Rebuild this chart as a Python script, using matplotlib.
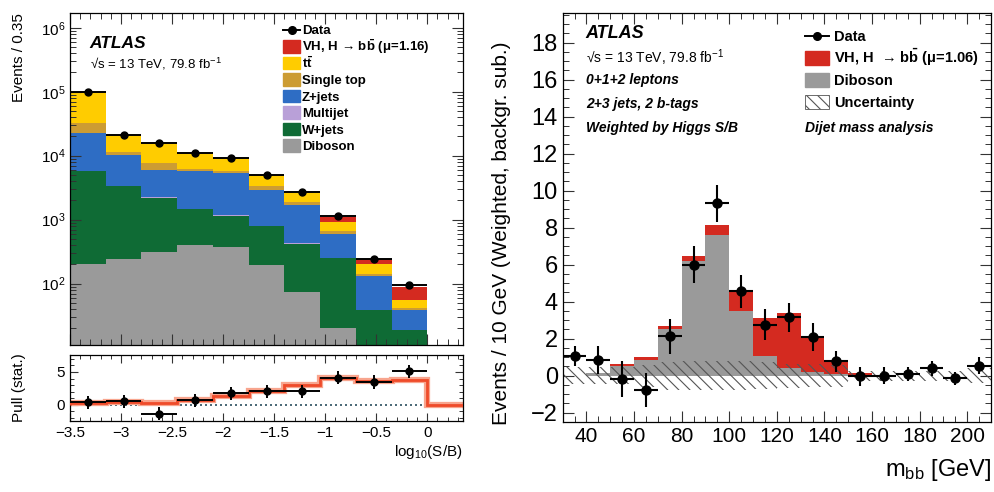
import numpy as np
import matplotlib
matplotlib.use("Agg")
import matplotlib.pyplot as plt
from matplotlib.ticker import MultipleLocator, FixedLocator, LogLocator, NullFormatter
from matplotlib.lines import Line2D
from matplotlib.patches import Rectangle

plt.rcParams['font.family'] = ['Liberation Sans', 'DejaVu Sans']
plt.rcParams['mathtext.fontset'] = 'custom'
plt.rcParams['mathtext.rm'] = 'Liberation Sans'
plt.rcParams['mathtext.it'] = 'Liberation Sans:italic'
plt.rcParams['mathtext.bf'] = 'Liberation Sans:bold'
plt.rcParams['hatch.linewidth'] = 0.8

# ---------------- Left panel data: log10(S/B) ----------------
sb_edges = [-3.5, -3.15, -2.8, -2.45, -2.1, -1.75, -1.4, -1.05, -0.7, -0.35, 0.0]
diboson = [200, 245, 316, 398, 380, 195, 75, 20, 5, 3]
wjets = [5530, 3115, 1904, 1072, 780, 605, 348, 234, 34, 16]
multijet = [40, 15, 10, 5, 5, 3, 2, 1, 0, 0]
zjets = [17230, 6825, 3710, 4255, 4285, 2067, 1275, 339, 95, 20]
singletop = [10000, 1400, 1620, 430, 350, 490, 170, 76, 10, 2]
ttbar = [66000, 9600, 8440, 4940, 3500, 1590, 830, 260, 56, 15]
vh_sb = [150, 60, 50, 45, 45, 45, 40, 170, 45, 33]
data_sb = [98000, 21200, 16000, 11100, 9300, 4950, 2700, 1160, 245, 94]

pull_data = [0.36, 0.5, -1.38, 0.66, 1.75, 2.05, 2.04, 4.1, 3.47, 5.1]
pull_err = [1.0, 1.0, 1.0, 1.0, 1.0, 1.0, 1.0, 1.0, 1.0, 1.0]
pull_edges = [-3.5, -3.15, -2.8, -2.45, -2.1, -1.75, -1.4, -1.05, -0.7, -0.35, 0.0, 0.35]
pull_expected = [0.25, 0.35, 0.3, 0.66, 1.4, 2.05, 3.06, 4.08, 3.57, 3.72, 0.0]

# ---------------- Right panel data: m_bb ----------------
mbb_edges = [30, 40, 50, 60, 70, 80, 90, 100, 110, 120, 130, 140, 150, 160, 170, 180, 190, 200, 210]
diboson_m = [0.0, 0.15, 0.55, 0.83, 2.52, 6.18, 7.62, 3.48, 1.04, 0.4, 0.2, 0.1, 0.05, 0.02, 0, 0, 0, 0]
vh_m = [0.0, 0.02, 0.1, 0.17, 0.18, 0.27, 0.5, 1.08, 2.08, 2.99, 1.93, 0.76, 0.1, 0.03, 0, 0, 0, 0]
unc_m = [0.45, 0.45, 0.45, 0.6, 0.75, 0.77, 0.77, 0.77, 0.72, 0.65, 0.63, 0.6, 0.28, 0.27, 0.27, 0.27, 0.27, 0.4]
data_m = [1.05, 0.86, -0.18, -0.76, 2.12, 6.0, 9.33, 4.56, 2.76, 3.15, 2.09, 0.77, -0.04, 0.0, 0.09, 0.4, -0.13, 0.54]
err_m = [0.55, 0.77, 0.95, 0.93, 0.97, 0.99, 1.0, 0.9, 0.85, 0.8, 0.77, 0.57, 0.5, 0.45, 0.4, 0.4, 0.35, 0.45]

C_VH = '#d42a20'
C_TT = '#ffcc00'
C_ST = '#cc9c33'
C_Z = '#2e6dc4'
C_MJ = '#b9a0d8'
C_W = '#0f6b35'
C_DB = '#9a9a9a'
C_HATCH = '#555555'

BBBAR = r'$\mathbf{b\bar{b}}$'
TTBAR = r'$\mathbf{t\bar{t}}$'

W, H = 995, 492
fig = plt.figure(figsize=(W / 100, H / 100), dpi=100)
ax1 = fig.add_axes([0.0704, 0.2988, 0.3949, 0.6748])
ax2 = fig.add_axes([0.0704, 0.1443, 0.3949, 0.1342])
ax3 = fig.add_axes([0.5655, 0.1423, 0.4305, 0.8313])


def fx(px):
    return px / W


def fy(py):
    return 1 - py / H


def legend_rows(x0, ys, hw, hh, items, tx, fs):
    """Manual legend: items = (kind, style, label)."""
    for yc, (kind, style, label) in zip(ys, items):
        if kind == 'data':
            fig.add_artist(Line2D([fx(x0), fx(x0 + hw)], [fy(yc), fy(yc)], color='black',
                                  lw=1.4, transform=fig.transFigure))
            fig.add_artist(Line2D([fx(x0 + hw / 2)], [fy(yc)], marker='o', ms=5.5,
                                  color='black', transform=fig.transFigure))
        else:
            fig.add_artist(Rectangle((fx(x0), fy(yc + hh / 2)), hw / W, hh / H,
                                     transform=fig.transFigure, **style))
        fig.text(fx(tx), fy(yc + 0.36 * fs * 100 / 72), label, fontsize=fs,
                 fontweight='bold', va='baseline', ha='left')


# ---- left main stack ----
e = np.array(sb_edges)
comps = [(diboson, C_DB), (wjets, C_W), (multijet, C_MJ), (zjets, C_Z),
         (singletop, C_ST), (ttbar, C_TT), (vh_sb, C_VH)]
base = np.full(len(diboson), 1e-3)
for vals, col in comps:
    top = base + np.array(vals, dtype=float)
    ax1.stairs(top, e, baseline=base, fill=True, color=col, linewidth=0)
    base = top
ctr = 0.5 * (e[:-1] + e[1:])
hw = 0.5 * np.diff(e)
ax1.errorbar(ctr, data_sb, xerr=hw, yerr=np.sqrt(data_sb), fmt='o', color='black',
             ms=5, elinewidth=1.4, capsize=0, zorder=5)
ax1.set_yscale('log')
ax1.set_xlim(-3.5, 0.35)
ax1.set_ylim(11, 1.7e6)
ax1.yaxis.set_major_locator(FixedLocator([1e2, 1e3, 1e4, 1e5, 1e6]))
ax1.yaxis.set_minor_locator(LogLocator(base=10, subs=np.arange(2, 10)))
ax1.yaxis.set_minor_formatter(NullFormatter())
ax1.xaxis.set_major_locator(MultipleLocator(0.5))
ax1.xaxis.set_minor_locator(MultipleLocator(0.1))
ax1.tick_params(labelbottom=False)
ax1.set_ylabel('Events / 0.35', fontsize=11, loc='top')
ax1.yaxis.set_label_coords(-0.112, 1.0)

ax1.text(0.05, 0.908, 'ATLAS', transform=ax1.transAxes, fontsize=12.5,
         fontweight='bold', fontstyle='italic', va='center')
ax1.text(0.05, 0.846, '√s = 13 TeV, 79.8 fb$^{-1}$', transform=ax1.transAxes,
         fontsize=9.5, va='center')

legend_rows(283, [29.5, 46.5, 63, 79.5, 96, 112.5, 129, 145.5], 17, 12.5,
            [('data', None, 'Data'),
             ('patch', dict(color=C_VH), 'VH, H → ' + BBBAR + ' (μ=1.16)'),
             ('patch', dict(color=C_TT), TTBAR),
             ('patch', dict(color=C_ST), 'Single top'),
             ('patch', dict(color=C_Z), 'Z+jets'),
             ('patch', dict(color=C_MJ), 'Multijet'),
             ('patch', dict(color=C_W), 'W+jets'),
             ('patch', dict(color=C_DB), 'Diboson')],
            302, 9.5)

# ---- pull panel ----
pe = np.array(pull_edges)
ax2.stairs(pull_expected, pe, color='#f8a58e', linewidth=4.5, zorder=2)
ax2.stairs(pull_expected, pe, color='#ef4b2a', linewidth=2.0, zorder=3)
ax2.axhline(0, color='#2b4f5f', linestyle=(0, (1.2, 1.8)), linewidth=1.2, zorder=1)
ax2.errorbar(ctr, pull_data, xerr=hw, yerr=pull_err, fmt='o', color='black',
             ms=5, elinewidth=1.4, capsize=0, zorder=5)
ax2.set_xlim(-3.5, 0.35)
ax2.set_ylim(-2.5, 7.6)
ax2.xaxis.set_minor_locator(MultipleLocator(0.1))
ax2.yaxis.set_major_locator(FixedLocator([0, 5]))
ax2.yaxis.set_minor_locator(MultipleLocator(1))
ax2.set_xticks([-3.5, -3, -2.5, -2, -1.5, -1, -0.5, 0])
ax2.set_xticklabels(['−3.5', '−3', '−2.5', '−2', '−1.5', '−1', '−0.5', '0'])
ax2.set_ylabel('Pull (stat.)', fontsize=11)
ax2.yaxis.set_label_coords(-0.112, 0.5)
ax2.set_xlabel('log$_{10}$(S/B)', fontsize=11, loc='right', labelpad=2)

# ---- right panel ----
me = np.array(mbb_edges)
dib = np.array(diboson_m)
tot = dib + np.array(vh_m)
ax3.stairs(dib, me, baseline=0, fill=True, color=C_DB, linewidth=0, zorder=1)
ax3.stairs(tot, me, baseline=dib, fill=True, color=C_VH, linewidth=0, zorder=1)
unc = np.array(unc_m)
ax3.stairs(unc, me, baseline=-unc, fill=True, facecolor='none', edgecolor=C_HATCH,
           hatch='\\\\\\', linewidth=0, zorder=2)
mc = 0.5 * (me[:-1] + me[1:])
ax3.errorbar(mc, data_m, xerr=5, yerr=err_m, fmt='o', color='black', ms=6.5,
             elinewidth=1.5, capsize=0, zorder=5)
ax3.set_xlim(30, 210)
ax3.set_ylim(-2.5, 19.6)
ax3.xaxis.set_major_locator(MultipleLocator(20))
ax3.xaxis.set_minor_locator(MultipleLocator(5))
ax3.yaxis.set_minor_locator(MultipleLocator(0.5))
ax3.set_yticks(np.arange(-2, 19, 2))
ax3.set_yticklabels([('−' + str(abs(v))) if v < 0 else str(v) for v in range(-2, 19, 2)])
ax3.set_ylabel('Events / 10 GeV (Weighted, backgr. sub.)', fontsize=15)
ax3.yaxis.set_label_coords(-0.12, 0.462)
ax3.set_xlabel('m$_{\\mathrm{bb}}$ [GeV]', fontsize=17, loc='right', labelpad=8)

ax3.text(0.054, 0.951, 'ATLAS', transform=ax3.transAxes, fontsize=13,
         fontweight='bold', fontstyle='italic', va='center')
ax3.text(0.054, 0.890, '√s = 13 TeV, 79.8 fb$^{-1}$', transform=ax3.transAxes,
         fontsize=10, va='center')
for yy, s in [(0.836, '0+1+2 leptons'), (0.778, '2+3 jets, 2 b-tags'),
              (0.719, 'Weighted by Higgs S/B')]:
    ax3.text(0.054, yy, s, transform=ax3.transAxes, fontsize=10,
             fontweight='bold', fontstyle='italic', va='center')
ax3.text(0.565, 0.719, 'Dijet mass analysis', transform=ax3.transAxes, fontsize=10,
         fontweight='bold', fontstyle='italic', va='center')

legend_rows(805, [36, 58, 80, 102], 24, 14,
            [('data', None, 'Data'),
             ('patch', dict(color=C_VH), 'VH, H  → ' + BBBAR + ' (μ=1.06)'),
             ('patch', dict(color=C_DB), 'Diboson'),
             ('patch', dict(facecolor='white', edgecolor=C_HATCH, hatch='\\\\\\',
                            linewidth=0.6), 'Uncertainty')],
            834, 10.5)

for ax in (ax1, ax2, ax3):
    ax.tick_params(which='both', direction='in', top=True, right=True, color='#333333')
    ax.tick_params(which='major', length=8, width=0.8)
    ax.tick_params(which='minor', length=4, width=0.7)
    for sp in ax.spines.values():
        sp.set_linewidth(0.9)
ax1.tick_params(axis='y', labelsize=11)
ax2.tick_params(labelsize=11, which='major')
ax2.tick_params(which='major', length=6)
ax2.tick_params(which='minor', length=3)
ax3.tick_params(axis='y', labelsize=17)
ax3.tick_params(axis='x', labelsize=15)

fig.savefig('out.png', dpi=100)
